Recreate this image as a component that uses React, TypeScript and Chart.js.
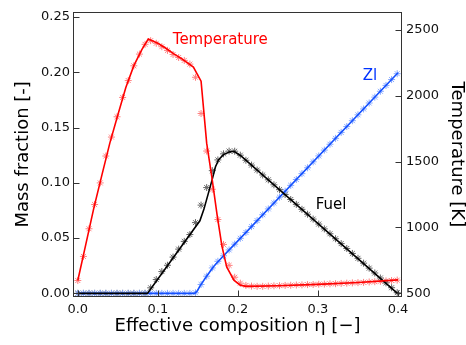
import React, { useEffect, useRef } from "react";
import { Chart, registerables } from "chart.js";

Chart.register(...registerables);

// ---- data ----
const markerX = [
  0, 0.007, 0.014, 0.021, 0.028, 0.035, 0.042, 0.049, 0.056, 0.063,
  0.07, 0.077, 0.084, 0.091, 0.098, 0.105, 0.112, 0.119, 0.126, 0.133,
  0.14, 0.147, 0.154, 0.161, 0.168, 0.175, 0.182, 0.189, 0.196, 0.203,
  0.21, 0.217, 0.224, 0.231, 0.238, 0.245, 0.252, 0.259, 0.266, 0.273,
  0.28, 0.287, 0.294, 0.301, 0.308, 0.315, 0.322, 0.329, 0.336, 0.343,
  0.35, 0.357, 0.364, 0.371, 0.378, 0.385, 0.392, 0.399,
];
const tempMarkers = [
  597, 780, 990, 1174, 1338, 1542, 1686, 1840, 1987, 2115,
  2227, 2316, 2390, 2418, 2398, 2372, 2344, 2313, 2290, 2268,
  2240, 2140, 1865, 1580, 1290, 1060, 871, 712, 622, 577,
  560, 555, 553, 553, 555, 557, 558, 560, 561, 563,
  564, 566, 567, 569, 570, 572, 573, 575, 577, 579,
  581, 583, 586, 588, 591, 594, 597, 600,
];
const fuelMarkers = [
  0, 0, 0, 0, 0, 0, 0, 0, 0, 0,
  0, 0, 0, 0.005, 0.0125, 0.0197, 0.0254, 0.0328, 0.04, 0.047,
  0.0532, 0.064, 0.0798, 0.0957, 0.111, 0.1207, 0.1262, 0.1287, 0.1286, 0.125,
  0.1204, 0.116, 0.1115, 0.1071, 0.1027, 0.0982, 0.0938, 0.0894, 0.0849, 0.0805,
  0.076, 0.0716, 0.0672, 0.0627, 0.0583, 0.0539, 0.0494, 0.045, 0.0406, 0.0361,
  0.0317, 0.0273, 0.0228, 0.0184, 0.0139, 0.0095, 0.0051, 0.0006,
];
const zlMarkers = [
  0, 0, 0, 0, 0, 0, 0, 0, 0, 0,
  0, 0, 0, 0, 0, 0, 0, 0, 0, 0,
  0, 0.0005, 0.008, 0.0155, 0.023, 0.029, 0.034, 0.0393, 0.0445, 0.0498,
  0.0551, 0.0604, 0.0658, 0.0711, 0.0764, 0.0817, 0.087, 0.0924, 0.0977, 0.103,
  0.1083, 0.1136, 0.119, 0.1243, 0.1296, 0.1349, 0.1402, 0.1456, 0.1509, 0.1562,
  0.1615, 0.1668, 0.1722, 0.1775, 0.1828, 0.1881, 0.1934, 0.1987,
];

const tempLineX = [0, 0.01, 0.02, 0.03, 0.04, 0.05, 0.06, 0.07, 0.08, 0.088, 0.1, 0.11, 0.12, 0.13, 0.1444, 0.154, 0.161, 0.1675, 0.174, 0.18, 0.186, 0.195, 0.203, 0.21, 0.25, 0.3, 0.35, 0.4];
const tempLineY = [597, 872, 1147, 1395, 1640, 1853, 2062, 2228, 2350, 2430, 2398, 2360, 2318, 2280, 2218, 2110, 1640, 1380, 1095, 860, 700, 600, 562, 553, 557, 568, 582, 602];

const fuelLineX = [0, 0.087, 0.1525, 0.1575, 0.1675, 0.172, 0.176, 0.182, 0.19, 0.195, 0.2035, 0.4];
const fuelLineY = [0, 0, 0.0656, 0.076, 0.102, 0.1145, 0.121, 0.1255, 0.128, 0.1285, 0.1245, -0.0005];

const zlLineX = [0, 0.146, 0.149, 0.153, 0.16, 0.17, 0.18, 0.19, 0.2, 0.4];
const zlLineY = [0, 0, 0.002, 0.007, 0.0145, 0.0245, 0.0325, 0.04, 0.0475, 0.1995];

const xTicks = [0, 0.1, 0.2, 0.3, 0.4];
const leftTicks = [0, 0.05, 0.1, 0.15, 0.2, 0.25];
const rightTicks = [500, 1000, 1500, 2000, 2500];

const seriesLabels = ["Temperature", "Fuel", "Zl"];
// label anchor positions in data units (x, y) and axis
const labelX = [0.178, 0.3164, 0.365];
const labelY = [2420, 0.0798, 0.1966];

const FONT = "DejaVu Sans";

function pts(xs: number[], ys: number[]) {
  return xs.map((x, i) => ({ x, y: ys[i] }));
}

const framePlugin = {
  id: "frameTicks",
  afterDraw(chart: any) {
    const { ctx, chartArea } = chart;
    const { left, right, top, bottom } = chartArea;
    const xs = chart.scales.x;
    const yl = chart.scales.y;
    const yr = chart.scales.y2;
    ctx.save();
    ctx.strokeStyle = "#333";
    ctx.lineWidth = 1;
    const L = Math.round(left) + 0.5;
    const R = Math.round(right) - 0.5;
    const T = Math.round(top) + 0.5;
    const B = Math.round(bottom) - 0.5;
    ctx.strokeRect(L, T, R - L, B - T);
    ctx.beginPath();
    const tl = 6;
    xTicks.forEach((v) => {
      const p = Math.round(xs.getPixelForValue(v)) + 0.5;
      ctx.moveTo(p, B);
      ctx.lineTo(p, B - tl);
    });
    leftTicks.forEach((v) => {
      const p = Math.round(yl.getPixelForValue(v)) + 0.5;
      ctx.moveTo(L, p);
      ctx.lineTo(L + tl, p);
    });
    rightTicks.forEach((v) => {
      const p = Math.round(yr.getPixelForValue(v)) + 0.5;
      ctx.moveTo(R, p);
      ctx.lineTo(R - tl, p);
    });
    ctx.stroke();

    // series labels
    ctx.font = `15px "${FONT}"`;
    ctx.textAlign = "center";
    ctx.textBaseline = "middle";
    const colors = ["#ff0000", "#000000", "#0033ff"];
    const axes = [yr, yl, yl];
    seriesLabels.forEach((t, i) => {
      ctx.fillStyle = colors[i];
      ctx.fillText(t, xs.getPixelForValue(labelX[i]), axes[i].getPixelForValue(labelY[i]));
    });
    ctx.restore();
  },
};

export default function App() {
  const ref = useRef<HTMLCanvasElement | null>(null);
  useEffect(() => {
    if (!ref.current) return;
    const markerDs = (data: number[], color: string, axis: string) => ({
      data: pts(markerX, data),
      yAxisID: axis,
      showLine: false,
      pointStyle: "star",
      pointRadius: 3.5,
      pointBorderWidth: 1,
      pointBorderColor: color,
      pointBackgroundColor: color,
      borderColor: color,
      order: 3,
    });
    const lineDs = (xs: number[], ys: number[], color: string, axis: string, order: number) => ({
      data: pts(xs, ys),
      yAxisID: axis,
      showLine: true,
      pointRadius: 0,
      borderColor: color,
      borderWidth: 1.6,
      tension: 0,
      order,
    });
    const chart = new Chart(ref.current, {
      type: "scatter",
      data: {
        datasets: [
          markerDs(zlMarkers, "#86a8ff", "y"),
          markerDs(fuelMarkers, "#666666", "y"),
          markerDs(tempMarkers, "#ff8080", "y2"),
          lineDs(zlLineX, zlLineY, "#1450ff", "y", 2),
          lineDs(fuelLineX, fuelLineY, "#000000", "y", 1),
          lineDs(tempLineX, tempLineY, "#ff0000", "y2", 0),
        ] as any,
      },
      options: {
        animation: false,
        responsive: false,
        events: [],
        layout: { padding: { top: 7, left: 0, right: 0, bottom: 0 } },
        plugins: { legend: { display: false }, tooltip: { enabled: false } },
        scales: {
          x: {
            type: "linear",
            position: "bottom",
            min: -0.006,
            max: 0.405,
            grid: { display: false, drawTicks: false },
            border: { display: false },
            ticks: {
              color: "#111",
              padding: 5,
              maxRotation: 0,
              font: { family: FONT, size: 13 },
              callback: (v: any) => Number(v).toFixed(1),
            },
            afterBuildTicks: (s: any) => {
              s.ticks = xTicks.map((v) => ({ value: v }));
            },
            afterFit: (s: any) => {
              s.height = 48;
            },
            title: {
              display: true,
              text: "Effective composition η [−]",
              color: "#000",
              font: { family: FONT, size: 18, lineHeight: 1 },
              padding: { top: 0, bottom: 10 },
            },
          },
          y: {
            type: "linear",
            position: "left",
            min: -0.0033,
            max: 0.2547,
            grid: { display: false, drawTicks: false },
            border: { display: false },
            ticks: {
              color: "#111",
              padding: 3,
              font: { family: FONT, size: 13 },
              callback: (v: any) => Number(v).toFixed(2),
            },
            afterBuildTicks: (s: any) => {
              s.ticks = leftTicks.map((v) => ({ value: v }));
            },
            afterFit: (s: any) => {
              s.width = 73;
            },
            title: {
              display: true,
              text: "Mass fraction [-]",
              color: "#000",
              font: { family: FONT, size: 18, lineHeight: 1 },
              padding: { top: 14, bottom: 0 },
            },
          },
          y2: {
            type: "linear",
            position: "right",
            min: 472,
            max: 2637,
            grid: { display: false, drawTicks: false },
            border: { display: false },
            ticks: {
              color: "#111",
              padding: 4,
              font: { family: FONT, size: 13 },
              callback: (v: any) => String(v),
            },
            afterBuildTicks: (s: any) => {
              s.ticks = rightTicks.map((v) => ({ value: v }));
            },
            afterFit: (s: any) => {
              s.width = 64;
            },
            title: {
              display: true,
              text: "Temperature [K]",
              color: "#000",
              font: { family: FONT, size: 18, lineHeight: 1 },
              padding: { top: 0, bottom: 0 },
            },
          },
        },
      } as any,
      plugins: [framePlugin],
    });
    return () => chart.destroy();
  }, []);
  return (
    <div style={{ position: "fixed", left: 0, top: 0, width: 466, height: 345, background: "#fff" }}>
      <canvas ref={ref} width={466} height={345} style={{ display: "block", width: 466, height: 345 }} />
    </div>
  );
}
